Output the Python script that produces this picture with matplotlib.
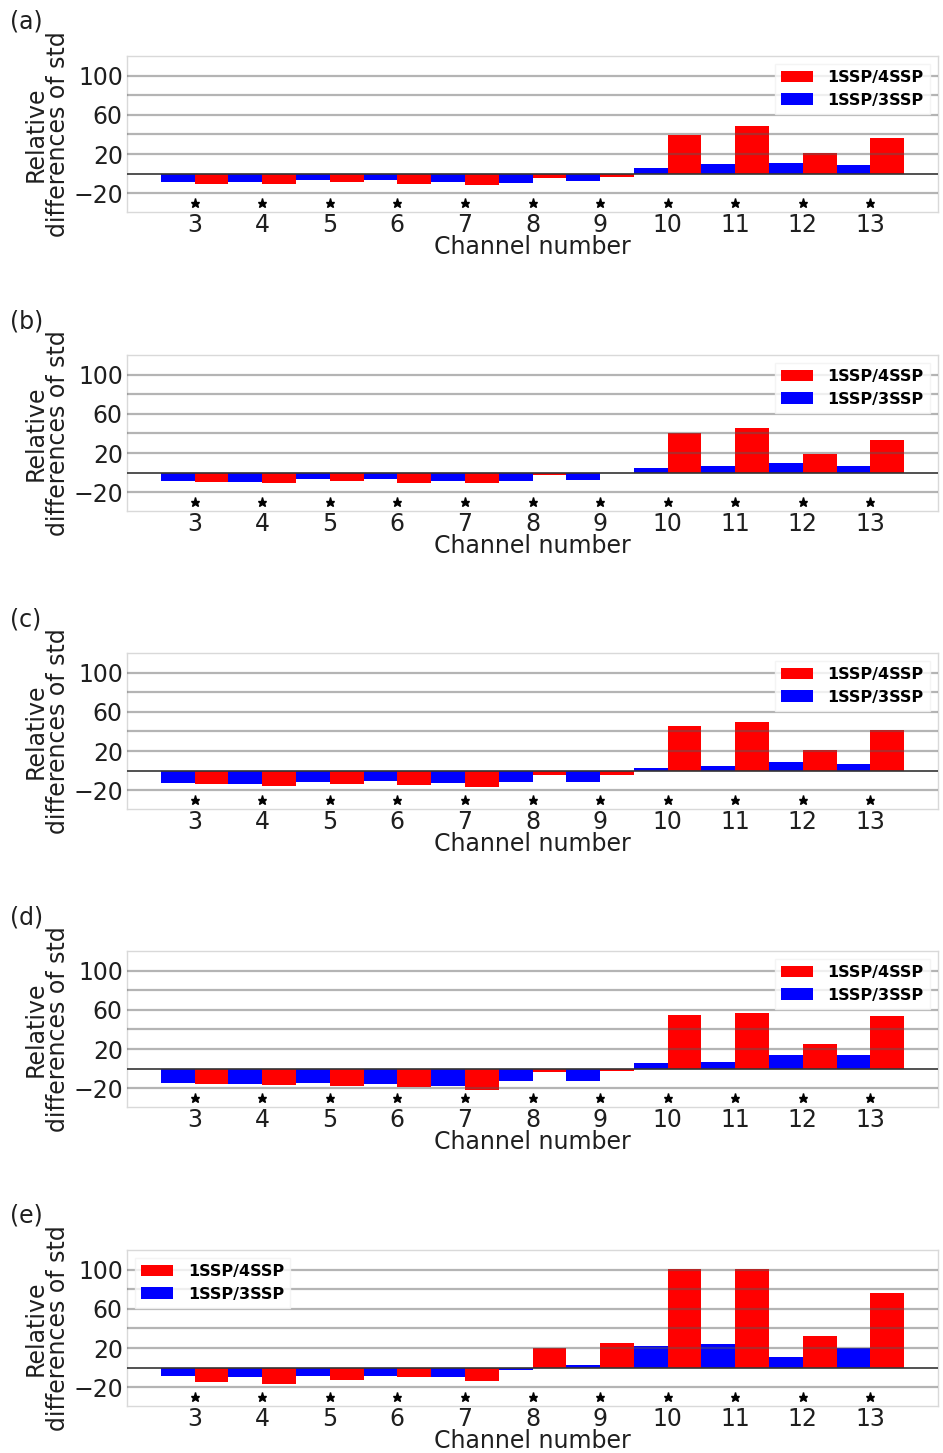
import matplotlib
matplotlib.use("Agg")
import matplotlib.pyplot as plt
import numpy as np

channels = [3, 4, 5, 6, 7, 8, 9, 10, 11, 12, 13]
panel_labels = ["(a)", "(b)", "(c)", "(d)", "(e)"]

# 1SSP/4SSP (red) and 1SSP/3SSP (blue) per panel
red_a = [-10, -10.5, -8, -10.5, -11, -4.5, -3.5, 39.7, 49, 21, 36.5]
blue_a = [-8, -8, -6, -6, -8, -9.3, -7, 5.5, 9.7, 11, 9.3]

red_b = [-9, -10, -8, -10, -10, -2.7, -0.3, 40, 45.7, 18.8, 33.8]
blue_b = [-8.2, -9, -6.5, -6.5, -8, -8.5, -7, 5, 6.8, 9.5, 7]

red_c = [-14, -15.4, -14, -15, -16.4, -4.4, -4.4, 46, 50, 21.5, 42]
blue_c = [-13, -13.7, -11, -10, -12, -11, -11.3, 2.4, 4.8, 8.9, 6.8]

red_d = [-16, -17, -17.4, -19, -21.8, -3.8, -2.4, 55, 56.3, 25.3, 53.6]
blue_d = [-14.7, -16, -15, -16, -17.4, -12.6, -12.6, 6, 7.2, 14.3, 14.3]

red_e = [-15, -16.3, -12.9, -9.2, -13.2, 19.7, 25, 100.7, 101, 32.2, 76.6]
blue_e = [-8.8, -9.8, -8.8, -8.1, -9.8, -2, 3, 22, 24.4, 10.5, 20.3]

reds = [red_a, red_b, red_c, red_d, red_e]
blues = [blue_a, blue_b, blue_c, blue_d, blue_e]
legend_locs = ["upper right"] * 4 + ["upper left"]

W, H = 943, 1453
fig = plt.figure(figsize=(W / 100, H / 100), dpi=100)

tops = [56, 355, 653, 951, 1250]
ax_h = 156
left, right = 127, 938

x = np.array(channels, dtype=float)
txtc = "0.12"
fs = 17

for i in range(5):
    top = tops[i]
    ax = fig.add_axes([left / W, 1 - (top + ax_h) / H, (right - left) / W, ax_h / H])
    ax.bar(x - 0.25, blues[i], width=0.5, color="blue", label="1SSP/3SSP", zorder=2)
    ax.bar(x + 0.25, reds[i], width=0.5, color="red", label="1SSP/4SSP", zorder=2)
    ax.plot(x, [-30] * len(x), linestyle="none", marker="*", color="black",
            markersize=6.5, zorder=4)
    ax.axhline(0, color="0.2", lw=1.2, zorder=5)
    ax.set_xlim(2, 14)
    ax.set_ylim(-39, 120)
    ax.set_yticks([-20, 20, 60, 100])
    ax.set_yticks([-20, 20, 40, 60, 80, 100], minor=True)
    ax.set_xticks(channels)
    ax.yaxis.grid(True, which="both", color="0.35", alpha=0.45, lw=1.6, zorder=3)
    ax.set_axisbelow(False)
    ax.tick_params(axis="y", which="both", length=0, labelsize=fs,
                   labelcolor=txtc, pad=3)
    ax.tick_params(axis="x", which="both", length=0, labelsize=fs,
                   labelcolor=txtc, pad=1)
    ax.set_yticklabels(["\u221220", "20", "60", "100"])
    for s in ax.spines.values():
        s.set_color("0.85")
        s.set_linewidth(1.0)
    ax.set_xlabel("Channel number", fontsize=fs, color=txtc, labelpad=-2)
    ax.set_ylabel("Relative\ndifferences of std", fontsize=fs, color=txtc,
                  labelpad=2, linespacing=0.95)
    h, l = ax.get_legend_handles_labels()
    leg = ax.legend(h[::-1], l[::-1], loc=legend_locs[i],
                    prop={"weight": "bold", "size": 11.5},
                    frameon=True, fancybox=False, handlelength=2.0,
                    handleheight=0.7, borderpad=0.4, labelspacing=0.45,
                    handletextpad=0.9)
    leg.get_frame().set_edgecolor("0.95")
    leg.get_frame().set_linewidth(1.0)
    fig.text(10 / W, 1 - (top - 34) / H, panel_labels[i], fontsize=fs,
             color=txtc, ha="left", va="center")

fig.savefig("out.png", dpi=100)
